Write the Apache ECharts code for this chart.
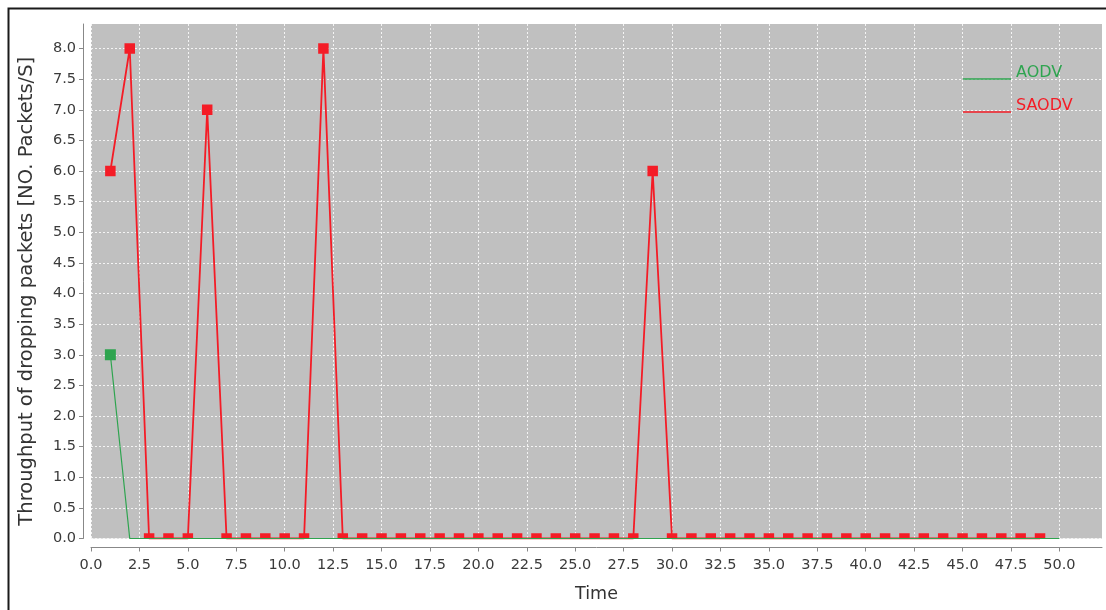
<!DOCTYPE html>
<html>
<head>
<meta charset="utf-8">
<script src="https://cdn.jsdelivr.net/npm/echarts@6/dist/echarts.min.js"></script>
<style>
html,body{margin:0;padding:0;background:#fff;}
#c{width:1106px;height:610px;}
</style>
</head>
<body>
<div id="c"></div>
<script>
const seriesNames = ['AODV', 'SAODV'];
const aodvTime = [1,2,3,4,5,6,7,8,9,10,11,12,13,14,15,16,17,18,19,20,21,22,23,24,25,26,27,28,29,30,31,32,33,34,35,36,37,38,39,40,41,42,43,44,45,46,47,48,49,50];
const aodvValues = [3,0,0,0,0,0,0,0,0,0,0,0,0,0,0,0,0,0,0,0,0,0,0,0,0,0,0,0,0,0,0,0,0,0,0,0,0,0,0,0,0,0,0,0,0,0,0,0,0,0];
const saodvTime = [1,2,3,4,5,6,7,8,9,10,11,12,13,14,15,16,17,18,19,20,21,22,23,24,25,26,27,28,29,30,31,32,33,34,35,36,37,38,39,40,41,42,43,44,45,46,47,48,49];
const saodvValues = [6,8,0,0,0,7,0,0,0,0,0,8,0,0,0,0,0,0,0,0,0,0,0,0,0,0,0,0,6,0,0,0,0,0,0,0,0,0,0,0,0,0,0,0,0,0,0,0,0];
const xTickLabels = ['0.0','2.5','5.0','7.5','10.0','12.5','15.0','17.5','20.0','22.5','25.0','27.5','30.0','32.5','35.0','37.5','40.0','42.5','45.0','47.5','50.0'];
const yTickLabels = ['0.0','0.5','1.0','1.5','2.0','2.5','3.0','3.5','4.0','4.5','5.0','5.5','6.0','6.5','7.0','7.5','8.0'];
const xAxisTitle = 'Time';
const yAxisTitle = 'Throughput of dropping packets [NO. Packets/S]';

const GREEN = '#2ea44f', RED = '#f41c26';
const FONT = 'DejaVu Sans, sans-serif';
const xTickVals = xTickLabels.map(Number);
const yTickVals = yTickLabels.map(Number);
const LEGEND_ICON = 'path://M0,0h0.05v0.05h-0.05Z M0,12.5h50v1.5h-50Z';

function makePoints(times, vals, showZero, size) {
  return times.map((t, i) => {
    const v = vals[i];
    if (v === 0) {
      return showZero
        ? { value: [t, v], symbolSize: [size, size / 2], symbolOffset: [0, '-50%'] }
        : { value: [t, v], symbolSize: 0 };
    }
    return { value: [t, v], symbolSize: size };
  });
}

const chart = echarts.init(document.getElementById('c'), null, { renderer: 'canvas' });
chart.setOption({
  animation: false,
  backgroundColor: '#ffffff',
  graphic: [{
    type: 'rect', left: 6, top: 6, z: -10,
    shape: { width: 1110, height: 620 },
    style: { fill: 'none', stroke: '#1a1a1a', lineWidth: 2 }
  }],
  grid: { left: 91, top: 24, right: 4, bottom: 71.5, show: true, backgroundColor: '#c0c0c0', borderWidth: 0 },
  legend: {
    orient: 'vertical', left: 958, top: 60, itemGap: 17, itemWidth: 48, itemHeight: 14,
    icon: LEGEND_ICON,
    textStyle: { fontFamily: FONT, fontSize: 16 },
    data: [
      { name: seriesNames[0], textStyle: { color: GREEN } },
      { name: seriesNames[1], textStyle: { color: RED } }
    ]
  },
  xAxis: {
    type: 'value', min: 0, max: 52.2, offset: 9,
    name: xAxisTitle, nameLocation: 'middle', nameGap: 38,
    nameTextStyle: { fontFamily: FONT, fontSize: 17.5, color: '#333' },
    axisLine: { show: true, onZero: false, lineStyle: { color: '#888' } },
    axisTick: { show: true, length: 4, customValues: xTickVals, lineStyle: { color: '#888' } },
    axisLabel: { customValues: xTickVals, formatter: v => xTickLabels[xTickVals.indexOf(v)] ?? '', fontFamily: FONT, fontSize: 14.5, color: '#3a3a3a', margin: 10 },
    splitLine: { show: true, lineStyle: { color: '#f4f4f4', type: [2, 2], width: 1 } }
  },
  yAxis: {
    type: 'value', min: 0, max: 8.4, offset: 8,
    name: yAxisTitle, nameLocation: 'middle', nameGap: 46,
    nameTextStyle: { fontFamily: FONT, fontSize: 19.5, color: '#333', padding: [0, 20, 0, 0] },
    axisLine: { show: true, onZero: false, lineStyle: { color: '#888' } },
    axisTick: { show: true, length: 4, customValues: yTickVals, lineStyle: { color: '#888' } },
    axisLabel: { customValues: yTickVals, formatter: v => yTickLabels[yTickVals.indexOf(v)] ?? '', fontFamily: FONT, fontSize: 14.5, color: '#3a3a3a', margin: 7 },
    splitLine: { show: true, lineStyle: { color: '#f4f4f4', type: [2, 2], width: 1 } }
  },
  series: [
    {
      name: seriesNames[0], type: 'line', z: 4,
      data: makePoints(aodvTime, aodvValues, false, 11),
      symbol: 'rect', showAllSymbol: true,
      itemStyle: { color: GREEN },
      lineStyle: { color: GREEN, width: 1.2 }
    },
    {
      name: seriesNames[1], type: 'line', z: 3,
      data: makePoints(saodvTime, saodvValues, true, 10.5),
      symbol: 'rect', showAllSymbol: true,
      itemStyle: { color: RED },
      lineStyle: { color: RED, width: 1.8 }
    }
  ]
});
</script>
</body>
</html>
